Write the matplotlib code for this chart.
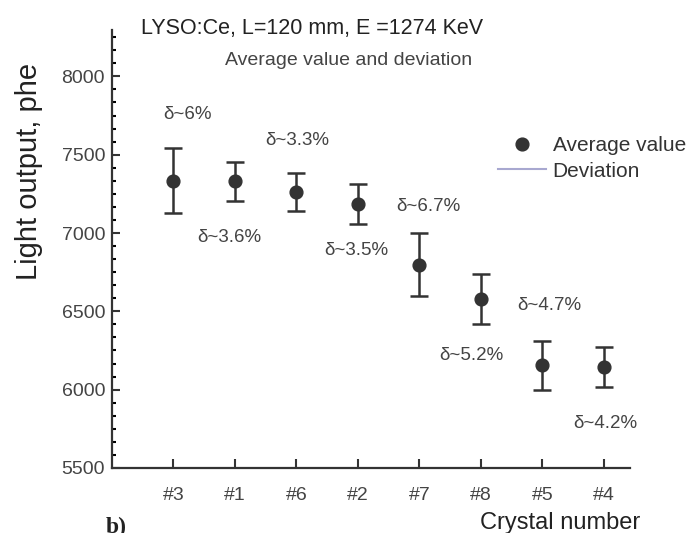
import numpy as np
import matplotlib
matplotlib.use('Agg')
import matplotlib.pyplot as plt
from matplotlib.ticker import MultipleLocator
from matplotlib.lines import Line2D

plt.rcParams['font.family'] = ['Liberation Sans', 'DejaVu Sans']

crystals = ['#3', '#1', '#6', '#2', '#7', '#8', '#5', '#4']
avg = [7335, 7330, 7260, 7185, 6798, 6580, 6155, 6145]
dev = [210, 125, 120, 125, 203, 160, 157, 130]
delta = ['δ~6%', 'δ~3.6%', 'δ~3.3%', 'δ~3.5%', 'δ~6.7%', 'δ~5.2%', 'δ~4.7%', 'δ~4.2%']
# label anchor points (data coords)
lab_x = [1.23, 1.91, 3.01, 3.97, 5.14, 5.84, 7.12, 8.03]
lab_y = [7754, 6969, 7588, 6886, 7167, 6215, 6535, 5787]

dark = '#333333'
fig = plt.figure(figsize=(6.93, 5.33), dpi=100)
ax = fig.add_axes([0.1616, 0.122, 0.747, 0.822])

x = np.arange(1, len(crystals) + 1)
ax.errorbar(x, avg, yerr=dev, fmt='o', color=dark, ms=9.2, elinewidth=1.8,
            capsize=6.8, capthick=1.8)

for xi, yi, t in zip(lab_x, lab_y, delta):
    ax.text(xi, yi, t, ha='center', va='center', fontsize=13.5, color='#444444')

ax.set_xlim(0, 8.42)
ax.set_ylim(5500, 8297)
ax.set_xticks(x)
ax.set_xticklabels(crystals)
ax.set_yticks([5500, 6000, 6500, 7000, 7500, 8000])
ax.yaxis.set_minor_locator(MultipleLocator(500 / 6))
ax.tick_params(axis='both', direction='in', colors=dark, labelcolor='#444444',
               labelsize=14, width=1.5)
ax.tick_params(axis='y', which='major', length=6, pad=5)
ax.tick_params(axis='y', which='minor', length=3, width=1.5, direction='in')
ax.tick_params(axis='x', which='major', length=6.5, pad=14)
for s in ['top', 'right']:
    ax.spines[s].set_visible(False)
for s in ['left', 'bottom']:
    ax.spines[s].set_color(dark)
    ax.spines[s].set_linewidth(1.6)

ax.set_ylabel('Light output, phe', fontsize=21, color='#222222')
ax.yaxis.set_label_coords(-0.133, 0.676)
fig.text(0.808, 0.008, 'Crystal number', fontsize=17, color='#222222', ha='center')
fig.text(0.451, 0.947, 'LYSO:Ce, L=120 mm, E =1274 KeV', fontsize=15.5,
         color='#222222', ha='center', va='center')
fig.text(0.503, 0.887, 'Average value and deviation', fontsize=14,
         color='#444444', ha='center', va='center')
fig.text(0.152, -0.01, 'b)', fontsize=17, fontweight='bold', family='Liberation Serif',
         color='#222222', ha='left', va='bottom')

handles = [Line2D([], [], ls='none', marker='o', color=dark, ms=9.2),
           Line2D([], [], color='#a8a8d0', lw=1.5)]
ax.legend(handles, ['Average value', 'Deviation'], loc='upper left',
          bbox_to_anchor=(0.745, 0.757), frameon=False, fontsize=15,
          handlelength=2.3, handletextpad=0.34, labelspacing=0.3,
          labelcolor='#333333', borderaxespad=0, borderpad=0)

fig.savefig('out.png', dpi=100)
